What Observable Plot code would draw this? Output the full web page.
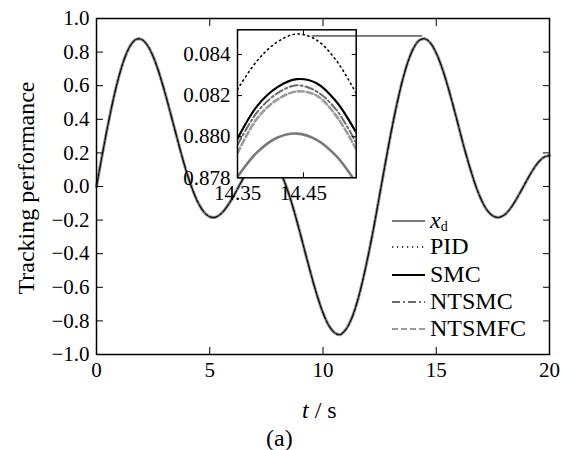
<!DOCTYPE html>
<html><head><meta charset="utf-8">
<script src="https://cdn.jsdelivr.net/npm/d3@7"></script>
<script src="https://cdn.jsdelivr.net/npm/@observablehq/plot@0.6"></script>
<style>
body{margin:0;background:#fff;}
#wrap{position:relative;width:565px;height:450px;font-family:"Liberation Serif","Times New Roman",serif;color:#000;overflow:hidden;}
#wrap svg{position:absolute;}
.lbl{position:absolute;font-size:24px;white-space:nowrap;line-height:1;}
</style></head><body><div id="wrap"></div>
<script>
// ---- main view: time samples and desired trajectory x_d (controllers overlap it at this scale)
const t = [0,0.25,0.5,0.75,1,1.25,1.5,1.75,2,2.25,2.5,2.75,3,3.25,3.5,3.75,4,4.25,4.5,4.75,5,5.25,5.5,5.75,6,6.25,6.5,6.75,7,7.25,7.5,7.75,8,8.25,8.5,8.75,9,9.25,9.5,9.75,10,10.25,10.5,10.75,11,11.25,11.5,11.75,12,12.25,12.5,12.75,13,13.25,13.5,13.75,14,14.25,14.5,14.75,15,15.25,15.5,15.75,16,16.25,16.5,16.75,17,17.25,17.5,17.75,18,18.25,18.5,18.75,19,19.25,19.5,19.75,20];
const xd = [0,0.186,0.363,0.524,0.660,0.767,0.840,0.876,0.875,0.840,0.774,0.681,0.569,0.445,0.317,0.191,0.076,-0.022,-0.100,-0.153,-0.180,-0.183,-0.162,-0.122,-0.069,-0.008,0.054,0.109,0.153,0.179,0.183,0.162,0.116,0.045,-0.048,-0.159,-0.283,-0.411,-0.537,-0.653,-0.752,-0.826,-0.869,-0.882,-0.853,-0.790,-0.692,-0.562,-0.408,-0.237,-0.050,0.137,0.318,0.483,0.627,0.742,0.824,0.870,0.879,0.853,0.794,0.708,0.601,0.479,0.351,0.222,0.106,0.001,-0.082,-0.142,-0.175,-0.184,-0.170,-0.135,-0.084,-0.025,0.037,0.095,0.143,0.174,0.185];
const xTicks = [0,5,10,15,20];
const yTicks = [-1,-0.8,-0.6,-0.4,-0.2,0,0.2,0.4,0.6,0.8,1];

// ---- inset (zoom around t = 14.45)
const insetT   = [14.35,14.38,14.41,14.44,14.47,14.50,14.53];
const insetXd  = [0.87805,0.87925,0.87995,0.88015,0.87985,0.87905,0.87775];
const insetPID = [0.8823,0.8837,0.8846,0.8850,0.8847,0.8837,0.8821];
const insetSMC = [0.8799,0.8815,0.8824,0.8828,0.8826,0.8817,0.8802];
const insetNTSMC  = [0.8796,0.8812,0.8821,0.8825,0.8822,0.8813,0.8797];
const insetNTSMFC = [0.8792,0.8809,0.8818,0.8822,0.8820,0.8810,0.8794];
const insetYTicks  = [0.878,0.880,0.882,0.884];
const insetYLabels = ["0.878","0.880","0.082","0.084"];
const insetXTicks  = [14.35,14.45];
const linkT = [14.463,14.629];
const linkY = [0.8849,0.8849];

const names = ["x_d","PID","SMC","NTSMC","NTSMFC"];
const styles = {
  "x_d":    {stroke:"#7a7a7a", strokeWidth:2.6},
  "PID":    {stroke:"#000", strokeWidth:1.6, strokeDasharray:"1.2,3.8"},
  "SMC":    {stroke:"#000", strokeWidth:2.2},
  "NTSMC":  {stroke:"#6a6a6a", strokeWidth:2, strokeDasharray:"8,3,2,3"},
  "NTSMFC": {stroke:"#9c9c9c", strokeWidth:2.6, strokeDasharray:"6,3"}
};
const insetVals = {"x_d":insetXd,"PID":insetPID,"SMC":insetSMC,"NTSMC":insetNTSMC,"NTSMFC":insetNTSMFC};

const mainData = t.map((v,i)=>({t:v, y:xd[i]}));
const font = {fontFamily:"Liberation Serif, Times New Roman, serif", fontSize:"21px", background:"transparent", color:"black", overflow:"visible"};

const main = Plot.plot({
  width:565, height:450, marginLeft:96, marginRight:16, marginTop:18, marginBottom:96,
  style:font,
  x:{domain:[0,20]}, y:{domain:[-1,1]},
  marks:[
    Plot.line(mainData,{x:"t",y:"y",curve:"catmull-rom",stroke:"#8c8c8c",strokeWidth:3}),
    Plot.line(mainData,{x:"t",y:"y",curve:"catmull-rom",stroke:"#a8a8a8",strokeWidth:2.4,strokeDasharray:"6,3"}),
    Plot.line(mainData,{x:"t",y:"y",curve:"catmull-rom",stroke:"#555",strokeWidth:1.6,strokeDasharray:"8,3,2,3"}),
    Plot.line(mainData,{x:"t",y:"y",curve:"catmull-rom",stroke:"#000",strokeWidth:1}),
    Plot.axisX(xTicks,{anchor:"bottom",tickSize:-7,tickPadding:15,tickFormat:d=>String(d),label:null}),
    Plot.axisX([5,10,15],{anchor:"top",tickSize:-7,fill:"none",label:null}),
    Plot.axisY(yTicks,{anchor:"left",tickSize:-7,tickPadding:14,tickFormat:d3.format(".1f"),label:null}),
    Plot.axisY(yTicks.slice(1,-1),{anchor:"right",tickSize:-7,fill:"none",label:null}),
    Plot.frame({stroke:"black",strokeWidth:1.5})
  ]
});
main.style.left="0px"; main.style.top="0px";

const insetMarks = [Plot.frame({fill:"white",stroke:"none"})];
for (const n of names) {
  const d = insetT.map((v,i)=>({t:v,y:insetVals[n][i]}));
  insetMarks.push(Plot.line(d,{x:"t",y:"y",curve:"catmull-rom",clip:true,...styles[n]}));
}
insetMarks.push(
  Plot.axisY(insetYTicks,{anchor:"left",tickSize:-5,tickPadding:12,tickFormat:d=>insetYLabels[insetYTicks.indexOf(d)],label:null}),
  Plot.axisY(insetYTicks.slice(1),{anchor:"right",tickSize:-5,fill:"none",label:null}),
  Plot.axisX(insetXTicks,{anchor:"bottom",tickSize:-5,tickPadding:12,tickFormat:d=>d.toFixed(2),label:null}),
  Plot.axisX([14.45],{anchor:"top",tickSize:-5,fill:"none",label:null}),
  Plot.frame({stroke:"black",strokeWidth:1.5}),
  Plot.line(linkT.map((v,i)=>({t:v,y:linkY[i]})),{x:"t",y:"y",stroke:"black",strokeWidth:1})
);
const inset = Plot.plot({
  width:273, height:195, marginLeft:70, marginRight:84.3, marginTop:9.3, marginBottom:37.7,
  style:font,
  x:{domain:[14.35,14.53]}, y:{domain:[0.878,0.8852]},
  marks:insetMarks
});
inset.style.left="167px"; inset.style.top="20px";

const wrap = document.getElementById("wrap");
wrap.appendChild(main);
wrap.appendChild(inset);

// y axis title (rotated)
const yl = document.createElement("div");
yl.className="lbl"; yl.textContent="Tracking performance";
yl.style.left="26px"; yl.style.top="188px";
yl.style.transform="translate(-50%,-50%) rotate(-90deg)";
wrap.appendChild(yl);

// legend (HTML, inside plot area at lower right)
const legY = [221,247,275,302,329];
names.forEach((n,i)=>{
  const s = styles[n];
  const ns = "http://www.w3.org/2000/svg";
  const sv = document.createElementNS(ns,"svg");
  sv.setAttribute("width","33"); sv.setAttribute("height","6");
  sv.style.left="392px"; sv.style.top=(legY[i]-3)+"px";
  const ln = document.createElementNS(ns,"line");
  ln.setAttribute("x1","0"); ln.setAttribute("x2","33"); ln.setAttribute("y1","3"); ln.setAttribute("y2","3");
  ln.setAttribute("stroke",s.stroke); ln.setAttribute("stroke-width",Math.min(s.strokeWidth,2));
  if (s.strokeDasharray) ln.setAttribute("stroke-dasharray",s.strokeDasharray);
  sv.appendChild(ln); wrap.appendChild(sv);
  const d = document.createElement("div");
  d.className="lbl"; d.style.left="430px"; d.style.top=(legY[i]-13)+"px";
  if (n==="x_d") d.innerHTML='<i>x</i><span style="font-size:14px;position:relative;top:3px;line-height:1">d</span>';
  else d.textContent=n;
  wrap.appendChild(d);
});
const xl = document.createElement("div");
xl.className="lbl"; xl.innerHTML='<i>t</i> / s';
xl.style.left="302px"; xl.style.top="398px";
wrap.appendChild(xl);
const cap = document.createElement("div");
cap.className="lbl"; cap.textContent="(a)";
cap.style.left="266px"; cap.style.top="426px";
wrap.appendChild(cap);
</script></body></html>
